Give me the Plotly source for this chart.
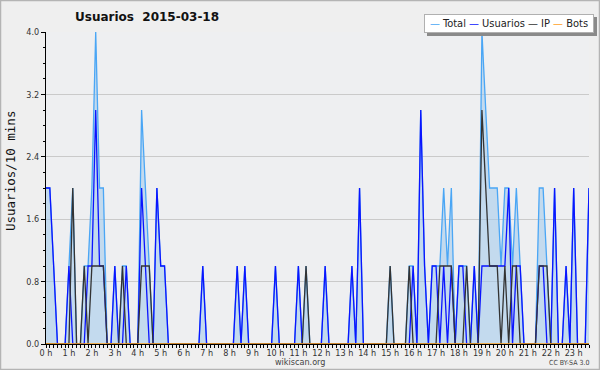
import plotly.graph_objects as go

# 10-minute slots, 00:00 .. 23:40
slot_minutes = [i * 10 for i in range(143)]

usuarios = [
    2, 2, 1, 0, 0, 0,   # 0 h
    1, 0, 0, 0, 0, 1,   # 1 h
    1, 3, 1, 1, 0, 0,   # 2 h
    1, 0, 0, 1, 0, 0,   # 3 h
    0, 2, 1, 0, 0, 2,   # 4 h
    1, 1, 0, 0, 0, 0,   # 5 h
    0, 0, 0, 0, 0, 1,   # 6 h
    0, 0, 0, 0, 0, 0,   # 7 h
    0, 0, 1, 0, 1, 0,   # 8 h
    0, 0, 0, 0, 0, 0,   # 9 h
    1, 0, 0, 0, 0, 0,   # 10 h
    1, 0, 0, 0, 0, 0,   # 11 h
    0, 1, 0, 0, 0, 0,   # 12 h
    0, 0, 1, 0, 2, 0,   # 13 h
    0, 0, 0, 0, 0, 0,   # 14 h
    0, 0, 0, 0, 0, 0,   # 15 h
    1, 0, 3, 1, 0, 1,   # 16 h
    1, 0, 1, 0, 1, 0,   # 17 h
    1, 1, 0, 0, 1, 0,   # 18 h
    1, 1, 1, 1, 1, 1,   # 19 h
    1, 2, 0, 1, 1, 0,   # 20 h
    0, 0, 0, 1, 1, 0,   # 21 h
    0, 2, 0, 0, 1, 0,   # 22 h
    2, 0, 0, 0, 2,      # 23 h
]

ip = [
    0, 0, 0, 0, 0, 0,
    0, 2, 0, 0, 1, 0,
    1, 1, 1, 1, 0, 0,
    0, 0, 1, 0, 0, 0,
    0, 1, 1, 1, 0, 0,
    0, 0, 0, 0, 0, 0,
    0, 0, 0, 0, 0, 0,
    0, 0, 0, 0, 0, 0,
    0, 0, 0, 0, 0, 0,
    0, 0, 0, 0, 0, 0,
    0, 0, 0, 0, 0, 0,
    0, 0, 1, 0, 0, 0,
    0, 0, 0, 0, 0, 0,
    0, 0, 0, 0, 0, 0,
    0, 0, 0, 0, 0, 0,
    1, 0, 0, 0, 0, 1,
    0, 0, 0, 0, 0, 0,
    0, 1, 1, 1, 1, 0,
    0, 0, 1, 0, 0, 0,
    3, 2, 1, 1, 1, 0,
    1, 0, 1, 1, 0, 0,
    0, 0, 0, 1, 1, 1,
    0, 0, 0, 0, 0, 0,
    0, 0, 0, 0, 0,
]

total = [
    2, 2, 1, 0, 0, 0,
    1, 2, 0, 0, 1, 1,
    2, 4, 2, 2, 0, 0,
    1, 0, 1, 1, 0, 0,
    0, 3, 2, 1, 0, 2,
    1, 1, 0, 0, 0, 0,
    0, 0, 0, 0, 0, 1,
    0, 0, 0, 0, 0, 0,
    0, 0, 1, 0, 1, 0,
    0, 0, 0, 0, 0, 0,
    1, 0, 0, 0, 0, 0,
    1, 0, 1, 0, 0, 0,
    0, 1, 0, 0, 0, 0,
    0, 0, 1, 0, 2, 0,
    0, 0, 0, 0, 0, 0,
    1, 0, 0, 0, 0, 1,
    1, 0, 3, 1, 0, 1,
    1, 1, 2, 1, 2, 0,
    1, 1, 1, 0, 1, 0,
    4, 3, 2, 2, 2, 1,
    2, 2, 1, 2, 1, 0,
    0, 0, 0, 2, 2, 1,
    0, 2, 0, 0, 1, 0,
    2, 0, 0, 0, 2,
]

bots = [0] * 143

series_names = ["Total", "Usuarios", "IP", "Bots"]
series_colors = ["#4aa6f5", "#0a14ff", "#333333", "#ffa01e"]

hour_ticks = [h * 60 for h in range(24)]
hour_labels = [f"{h} h" for h in range(24)]
y_ticks = [0.0, 0.8, 1.6, 2.4, 3.2, 4.0]
y_labels = ["0.0", "0.8", "1.6", "2.4", "3.2", "4.0"]

FONT = "DejaVu Sans Condensed, DejaVu Sans"

fig = go.Figure()
fig.add_trace(go.Scatter(
    x=slot_minutes, y=total, name=series_names[0], mode="lines",
    line=dict(color=series_colors[0], width=1.3),
    fill="tozeroy", fillcolor="rgba(160,200,235,0.55)",
))
for name, color, vals in zip(series_names[1:], series_colors[1:], [usuarios, ip, bots]):
    fig.add_trace(go.Scatter(
        x=slot_minutes, y=vals, name=name, mode="lines",
        line=dict(color=color, width=1.3),
    ))

L, R, T, B = 46, 11, 32, 26
W, H = 600, 370
pw, ph = W - L - R, H - T - B


def px(xp):
    return (xp - L) / pw


def py(yp):
    return (H - B - yp) / ph


legend_text = " ".join(
    f'<span style="color:{c}">—</span> {n}' for n, c in zip(series_names, series_colors)
)

# legend box geometry (pixels)
LG_L, LG_R, LG_T, LG_B = 424, 594, 14, 33

fig.update_layout(
    width=W, height=H,
    margin=dict(l=L, r=R, t=T, b=B, pad=0, autoexpand=False),
    paper_bgcolor="#efefef",
    plot_bgcolor="#eeeff1",
    font=dict(family=FONT, size=10, color="#222222"),
    title=dict(
        text="<b>Usuarios&nbsp; 2015-03-18</b>",
        x=75 / W, xanchor="left", xref="container",
        y=1 - 17 / H, yanchor="middle", yref="container",
        pad=dict(l=0, r=0, t=0, b=0),
        font=dict(family="DejaVu Sans", size=12, color="#111111"),
    ),
    showlegend=False,
    xaxis=dict(
        range=[0, 1420], automargin=False,
        tickmode="array", tickvals=hour_ticks, ticktext=hour_labels,
        tickangle=0, ticklabelstandoff=-3,
        ticks="outside", ticklen=3, tickcolor="#000000", tickwidth=1,
        showline=True, linecolor="#000000", linewidth=1,
        showgrid=False, zeroline=False,
        tickfont=dict(family=FONT, size=9, color="#333333"),
        minor=dict(dtick=10, ticks="outside", ticklen=3, tickcolor="#000000", showgrid=False),
        fixedrange=True,
    ),
    yaxis=dict(
        range=[0, 4.0], automargin=False,
        tickmode="array", tickvals=y_ticks, ticktext=y_labels,
        ticks="outside", ticklen=4, tickcolor="#000000", tickwidth=1,
        showline=True, linecolor="#000000", linewidth=1,
        showgrid=True, gridcolor="#cacaca", gridwidth=1,
        zeroline=False,
        tickfont=dict(family=FONT, size=9, color="#333333"),
        minor=dict(dtick=0.2, ticks="outside", ticklen=2, tickcolor="#000000", showgrid=False),
        fixedrange=True,
    ),
    shapes=[
        dict(type="rect", xref="paper", yref="paper",
             x0=px(0.5), x1=px(599.5), y0=py(369.5), y1=py(0.5),
             line=dict(color="#b4b4b4", width=1.5), layer="below"),
        # legend drop shadow
        dict(type="rect", xref="paper", yref="paper",
             x0=px(LG_L + 3), x1=px(LG_R + 3), y0=py(LG_B + 3), y1=py(LG_T + 3),
             line=dict(width=0), fillcolor="#8a8a8a", layer="above"),
    ],
    annotations=[
        dict(text="Usuarios/10 mins", xref="paper", yref="paper",
             x=px(10), y=py(171), xanchor="center", yanchor="middle", textangle=-90,
             showarrow=False, font=dict(family="DejaVu Sans Mono", size=12.5, color="#111111")),
        dict(text=legend_text, xref="paper", yref="paper",
             x=px(LG_L), y=py(LG_T), xanchor="left", yanchor="top",
             width=LG_R - LG_L - 4, height=LG_B - LG_T - 4, align="center", valign="middle",
             bgcolor="#ffffff", bordercolor="#b0b0b0", borderwidth=1, borderpad=1,
             showarrow=False, font=dict(family=FONT, size=11, color="#222222")),
        dict(text="wikiscan.org", xref="paper", yref="paper",
             x=px(300), y=py(362), xanchor="center", yanchor="middle",
             showarrow=False, font=dict(family=FONT, size=9, color="#444444")),
        dict(text="CC BY-SA 3.0", xref="paper", yref="paper",
             x=px(591), y=py(363), xanchor="right", yanchor="middle",
             showarrow=False, font=dict(family=FONT, size=7, color="#444444")),
    ],
)

fig.write_html("out.html", config={"displayModeBar": False},
               post_script="document.body.style.margin='0px';")
